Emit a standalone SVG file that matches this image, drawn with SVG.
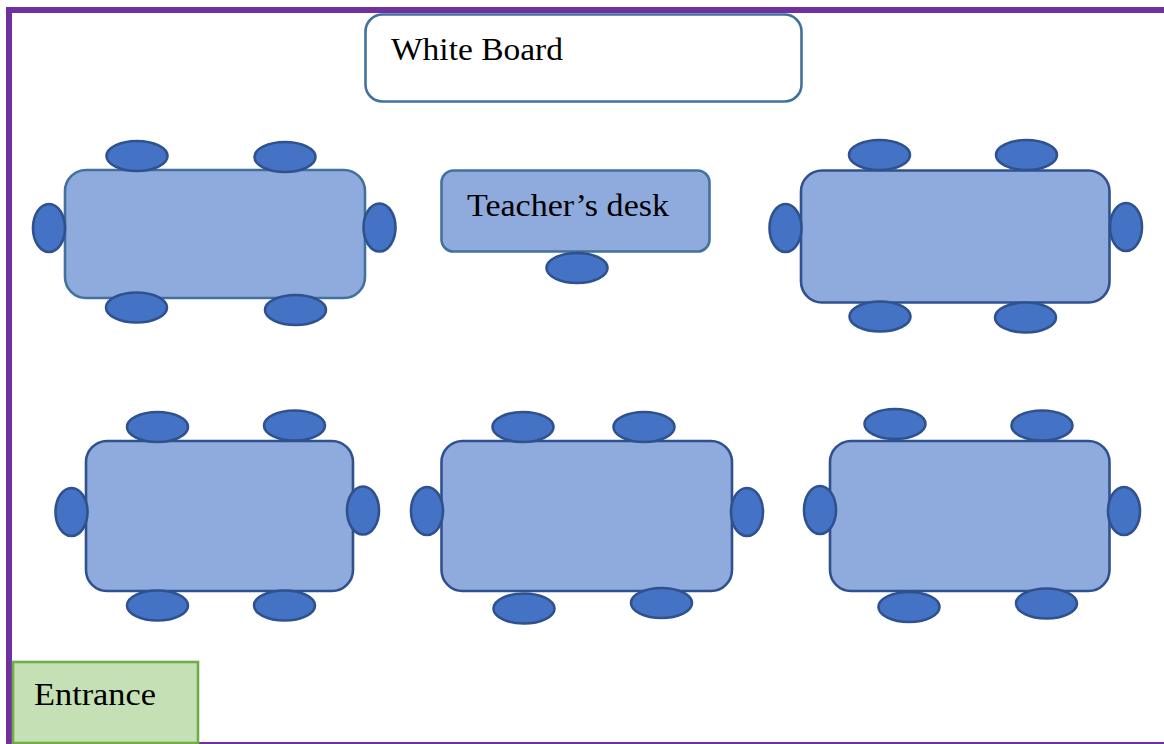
<svg xmlns="http://www.w3.org/2000/svg" width="1164" height="744" viewBox="0 0 1164 744">
<style>
.t{fill:#8faadc;stroke:#2f528f;stroke-width:2.600}
.a{fill:#8faadc;stroke:#41719c;stroke-width:2.600}
.c{fill:#4472c4;stroke:#2f528f;stroke-width:2.600}
text{font-family:"Liberation Serif","Times New Roman",serif;font-size:31px;fill:#000}
</style>
<rect width="1164" height="744" fill="#fff"/>
<g id="room" fill="#7030a0"><rect x="6" y="7" width="1158" height="6"/><rect x="6" y="7" width="6" height="737"/><rect x="6" y="742" width="1158" height="2"/></g>
<g id="connectors"/>
<g id="whiteboard"><rect x="365.500" y="14.500" width="436" height="87" rx="17" fill="#fff" stroke="#41719c" stroke-width="2.600"/><text x="391" y="60" textLength="172" lengthAdjust="spacingAndGlyphs">White Board</text></g>
<g id="table1"><rect class="a" x="65" y="170" width="300" height="128" rx="21"/><ellipse class="c" cx="137" cy="156" rx="30.500" ry="15"/><ellipse class="c" cx="285" cy="157" rx="30.500" ry="15"/><ellipse class="c" cx="49" cy="228" rx="16" ry="24"/><ellipse class="c" cx="379.500" cy="227.500" rx="16" ry="24"/><ellipse class="c" cx="136.500" cy="307.500" rx="30.500" ry="15"/><ellipse class="c" cx="295.500" cy="310" rx="30.500" ry="15"/></g>
<g id="teacher"><rect class="a" x="441.500" y="170.500" width="268" height="81" rx="12"/><text x="467" y="216" textLength="202" lengthAdjust="spacingAndGlyphs">Teacher’s desk</text><ellipse class="c" cx="577" cy="268" rx="30.500" ry="15"/></g>
<g id="table2"><rect class="t" x="801" y="170.500" width="308.500" height="132" rx="21"/><ellipse class="c" cx="879.500" cy="155" rx="30.500" ry="15"/><ellipse class="c" cx="1026.500" cy="155" rx="30.500" ry="15"/><ellipse class="c" cx="785.500" cy="228" rx="16" ry="24"/><ellipse class="c" cx="1126" cy="227" rx="16" ry="24"/><ellipse class="c" cx="880" cy="316.500" rx="30.500" ry="15"/><ellipse class="c" cx="1025.500" cy="317.500" rx="30.500" ry="15"/></g>
<g id="table3"><rect class="t" x="86" y="441" width="267" height="150" rx="21"/><ellipse class="c" cx="157.500" cy="427" rx="30.500" ry="15"/><ellipse class="c" cx="294.500" cy="425.500" rx="30.500" ry="15"/><ellipse class="c" cx="71.500" cy="512" rx="16" ry="24"/><ellipse class="c" cx="363" cy="510.500" rx="16" ry="24"/><ellipse class="c" cx="157.500" cy="605.500" rx="30.500" ry="15"/><ellipse class="c" cx="284.500" cy="605.500" rx="30.500" ry="15"/></g>
<g id="table4"><rect class="t" x="441.500" y="441" width="290.500" height="150" rx="21"/><ellipse class="c" cx="523" cy="427" rx="30.500" ry="15"/><ellipse class="c" cx="644" cy="427" rx="30.500" ry="15"/><ellipse class="c" cx="427" cy="511" rx="16" ry="24"/><ellipse class="c" cx="747" cy="512" rx="16" ry="24"/><ellipse class="c" cx="524" cy="608.500" rx="30.500" ry="15"/><ellipse class="c" cx="661.500" cy="603" rx="30.500" ry="15"/></g>
<g id="table5"><rect class="t" x="830" y="441" width="279.500" height="150" rx="21"/><ellipse class="c" cx="895" cy="424" rx="30.500" ry="15"/><ellipse class="c" cx="1042" cy="425.500" rx="30.500" ry="15"/><ellipse class="c" cx="820" cy="510" rx="16" ry="24"/><ellipse class="c" cx="1124" cy="511" rx="16" ry="24"/><ellipse class="c" cx="909" cy="607" rx="30.500" ry="15"/><ellipse class="c" cx="1046.500" cy="603.500" rx="30.500" ry="15"/></g>
<g id="entrance"><rect x="13" y="662" width="185" height="81" fill="#c5e0b4" stroke="#70ad47" stroke-width="2.600"/><text x="34" y="705" textLength="122" lengthAdjust="spacingAndGlyphs">Entrance</text></g>
</svg>
